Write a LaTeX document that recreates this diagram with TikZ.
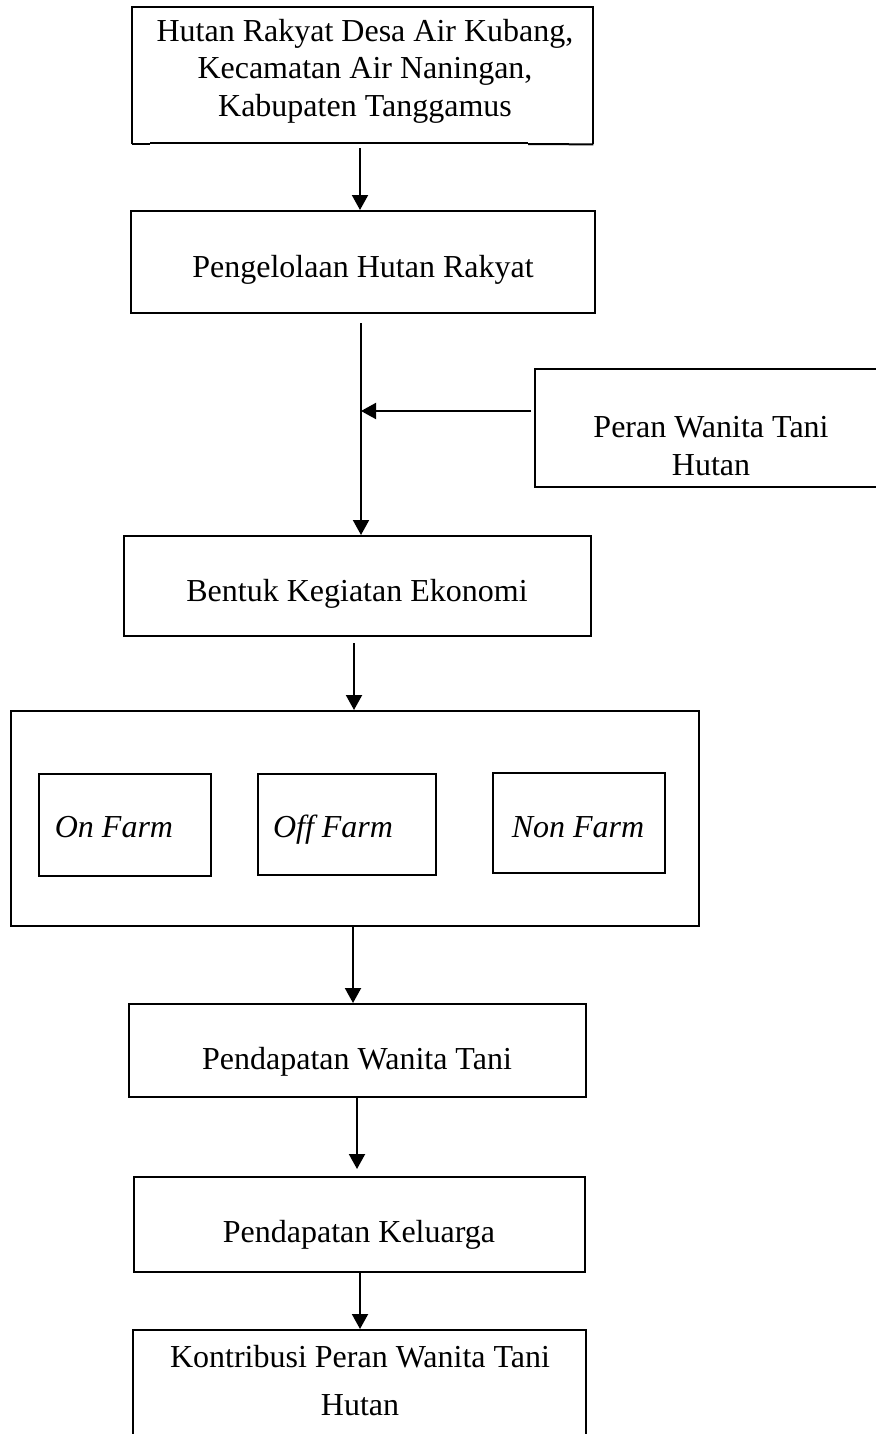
\documentclass[tikz,border=0pt]{standalone}
\usepackage{fontspec}
\setmainfont{Liberation Serif}
\usetikzlibrary{arrows.meta}
\begin{document}
\begin{tikzpicture}[x=0.5pt,y=-0.5pt,
  box/.style={draw,line width=1pt,inner sep=0pt},
  lbl/.style={inner sep=0pt,font=\fontsize{16pt}{19pt}\selectfont},
  arr/.style={line width=1pt,-{Triangle[length=7.5pt,width=8pt]}}]
\clip (0,0) rectangle (876,1434);

% top box (bottom edge drawn in pieces)
\node[inner sep=0pt,minimum width=230.5pt,minimum height=68.5pt] (b1) at (362.5,75.5) {};
\draw[line width=1pt] (b1.south west) |- (b1.north east) -- (b1.south east);
\draw[line width=1pt] (b1.south west) -- ++(18,0);
\draw[line width=1pt] (150,142.5) -- (528,142.5);
\draw[line width=1pt] (528,144) -- (b1.south east);
\node[lbl,align=center,font=\fontsize{16pt}{18.75pt}\selectfont] (t1) at (365,71)
  {Hutan Rakyat Desa Air Kubang,\\Kecamatan Air Naningan,\\Kabupaten Tanggamus};

\node[box,minimum width=232pt,minimum height=51pt] (b2) at (363,262) {};
\node[lbl,anchor=base] (t2) at (363,277) {Pengelolaan Hutan Rakyat};

\node[box,minimum width=177.5pt,minimum height=59pt] (b4) at (712.5,428) {};
\node[lbl,align=center,font=\fontsize{16pt}{19pt}\selectfont] (t4) at (711,446)
  {Peran Wanita Tani\\Hutan};

\node[box,minimum width=233.5pt,minimum height=50pt] (b3) at (357.5,586) {};
\node[lbl,anchor=base] (t3) at (357,601) {Bentuk Kegiatan Ekonomi};

\node[box,minimum width=344pt,minimum height=107.5pt] (b5) at (355,818.5) {};
\node[box,minimum width=86pt,minimum height=51pt] (on) at (125,825) {};
\node[lbl,anchor=base] (ton) at (114,837) {\itshape On Farm};
\node[box,minimum width=89pt,minimum height=50.5pt] (off) at (347,824.5) {};
\node[lbl,anchor=base] (toff) at (333,837) {\itshape Off Farm};
\node[box,minimum width=86pt,minimum height=50pt] (non) at (579,823) {};
\node[lbl,anchor=base] (tnon) at (578,837) {\itshape Non Farm};

\node[box,minimum width=228.5pt,minimum height=46.5pt] (b6) at (357.5,1050.5) {};
\node[lbl,anchor=base] (t6) at (357,1069) {Pendapatan Wanita Tani};

\node[box,minimum width=225.5pt,minimum height=47.5pt] (b7) at (359.5,1224.5) {};
\node[lbl,anchor=base] (t7) at (359,1242) {Pendapatan Keluarga};

\node[box,minimum width=226.5pt,minimum height=65pt] (b8) at (359.5,1395) {};
\node[lbl,align=center,font=\fontsize{16pt}{24pt}\selectfont] (t8) at (360,1381)
  {Kontribusi Peran Wanita Tani\\Hutan};

% connectors
\coordinate (c1) at (360,0);
\coordinate (c2) at (361,411);
\coordinate (c3) at (354,0);
\coordinate (c4) at (353,0);
\coordinate (c5) at (357,0);
\coordinate (c6) at (360,0);
\draw[arr,shorten <=2pt] (b1.south -| c1) -- (b2.north -| c1);
\draw[arr,shorten <=4.5pt] (b2.south -| c2) -- (b3.north -| c2);
\draw[arr,shorten <=1.5pt] (b4.west |- c2) -- (c2);
\draw[arr,shorten <=3pt] (b3.south -| c3) -- (b5.north -| c3);
\draw[arr] (b5.south -| c4) -- (b6.north -| c4);
\draw[arr,shorten >=3.5pt] (b6.south -| c5) -- (b7.north -| c5);
\draw[arr] (b7.south -| c6) -- (b8.north -| c6);
\end{tikzpicture}
\end{document}
